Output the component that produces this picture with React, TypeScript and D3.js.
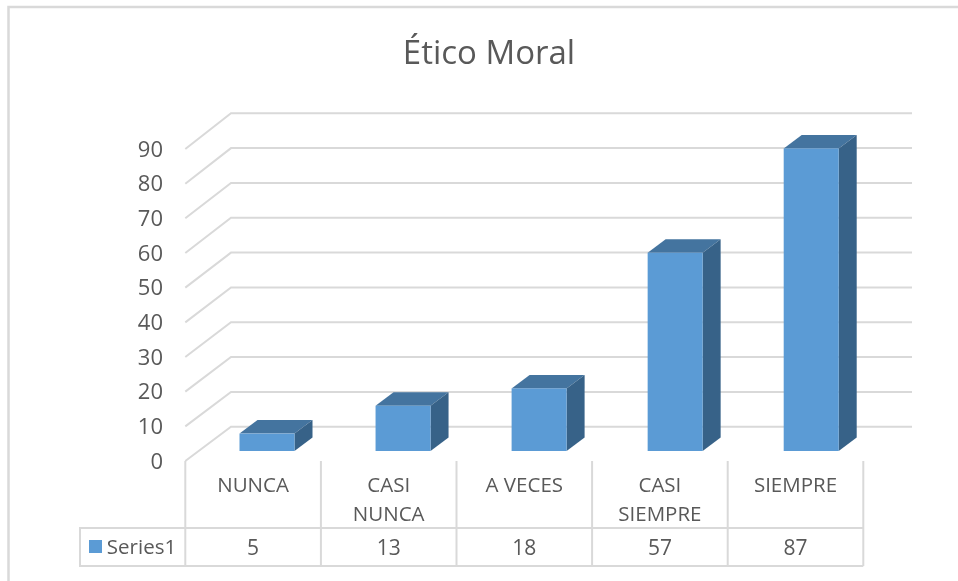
import { useEffect, useRef } from "react";
import * as d3 from "d3";

const categories = ["NUNCA", "CASI NUNCA", "A VECES", "CASI SIEMPRE", "SIEMPRE"];
const values = [5, 13, 18, 57, 87];
const yTicks = [0, 10, 20, 30, 40, 50, 60, 70, 80, 90];
const seriesName = "Series1";
const title = "Ético Moral";

const FONT = "'Open Sans', 'Noto Sans', sans-serif";
const GRID = "#d9d9d9";
const TEXT = "#595959";

const App = () => {
  const container = useRef<SVGSVGElement | null>(null);

  useEffect(() => {
    const svg = d3.select(container.current);
    svg.selectAll("*").remove();

    // frame of the chart area
    svg
      .append("path")
      .attr("d", "M8.5,581V7H958")
      .attr("fill", "none")
      .attr("stroke", GRID)
      .attr("stroke-width", 2.5);

    svg
      .append("text")
      .attr("x", 489)
      .attr("y", 64)
      .attr("text-anchor", "middle")
      .attr("font-family", FONT)
      .attr("font-size", 33)
      .attr("fill", TEXT)
      .text(title);

    // scales
    const x = d3.scaleBand<string>().domain(categories).range([185.3, 863.3]);
    const barLeft = d3.scalePoint<string>().domain(categories).range([239.5, 783.7]);
    const yFront = d3.scaleLinear().domain([0, 90]).range([461, 149]);
    const yBack = d3.scaleLinear().domain([0, 90]).range([426.7, 113.3]);
    const yBar = d3.scaleLinear().domain([0, 90]).range([451, 138]);

    // gridlines on the floor edge + back wall
    const grid = svg.append("g").attr("fill", "none").attr("stroke", GRID).attr("stroke-width", 2);
    grid
      .selectAll("path")
      .data(yTicks)
      .join("path")
      .attr("d", (d) => `M185.3,${yFront(d)}L231,${yBack(d)}H912`);

    // y labels
    svg
      .append("g")
      .selectAll("text")
      .data(yTicks)
      .join("text")
      .attr("x", 163)
      .attr("y", (d) => yFront(d) + 7.5)
      .attr("text-anchor", "end")
      .attr("font-family", FONT)
      .attr("font-size", 22)
      .attr("fill", TEXT)
      .text((d) => d);

    // 3d bars
    const barW = 55;
    const dx = 18;
    const dy = 13.5;
    const left = (c: string) => barLeft(c) as number;
    const bars = svg.append("g").selectAll("g").data(categories).join("g");
    bars
      .append("path")
      .attr("fill", "#44749f")
      .attr("d", (c, i) => {
        const l = left(c);
        const t = yBar(values[i]);
        return `M${l},${t}l${dx},${-dy}h${barW}l${-dx},${dy}Z`;
      });
    bars
      .append("path")
      .attr("fill", "#376288")
      .attr("d", (c, i) => {
        const r = left(c) + barW;
        return `M${r},${yBar(values[i])}l${dx},${-dy}V${yBar(0) - dy}l${-dx},${dy}Z`;
      });
    bars
      .append("rect")
      .attr("fill", "#5b9bd5")
      .attr("x", left)
      .attr("y", (c, i) => yBar(values[i]))
      .attr("width", barW)
      .attr("height", (c, i) => yBar(0) - yBar(values[i]));

    // data table
    const table = svg.append("g").attr("fill", "none").attr("stroke", GRID).attr("stroke-width", 2);
    const tableTop = 528;
    const tableBottom = 566;
    const edges = [...categories.map((c) => x(c) as number), 863.3];
    table
      .selectAll("line")
      .data(edges)
      .join("line")
      .attr("x1", (d) => d)
      .attr("x2", (d) => d)
      .attr("y1", 461)
      .attr("y2", tableBottom);
    table.append("path").attr("d", `M863.3,${tableTop}H80V${tableBottom}H863.3`);

    svg
      .append("rect")
      .attr("x", 89)
      .attr("y", 540)
      .attr("width", 13)
      .attr("height", 13)
      .attr("fill", "#5b9bd5");

    const label = (sel: any, size: number) =>
      sel.attr("font-family", FONT).attr("font-size", size).attr("fill", TEXT).attr("text-anchor", "middle");

    svg
      .append("text")
      .call(label, 20.5)
      .attr("x", 141.5)
      .attr("y", 554)
      .text(seriesName);

    const center = (c: string) => (x(c) as number) + x.bandwidth() / 2;
    // two-word categories wrap on two rows
    svg
      .append("g")
      .selectAll("text")
      .data(categories)
      .join("text")
      .call(label, 20.5)
      .each(function (c) {
        const words = c.startsWith("CASI") ? c.split(" ") : [c];
        d3.select(this)
          .selectAll("tspan")
          .data(words)
          .join("tspan")
          .attr("x", center(c))
          .attr("y", (_, i) => 491.5 + i * 29)
          .text((w) => w);
      });

    svg
      .append("g")
      .selectAll("text")
      .data(values)
      .join("text")
      .call(label, 21)
      .attr("x", (_, i) => center(categories[i]))
      .attr("y", 555)
      .text((d) => d);
  }, []);

  return (
    <svg
      ref={container}
      width={958}
      height={581}
      style={{ position: "absolute", left: 0, top: 0, background: "#fff", filter: "blur(0.4px)" }}
    />
  );
};

export default App;
